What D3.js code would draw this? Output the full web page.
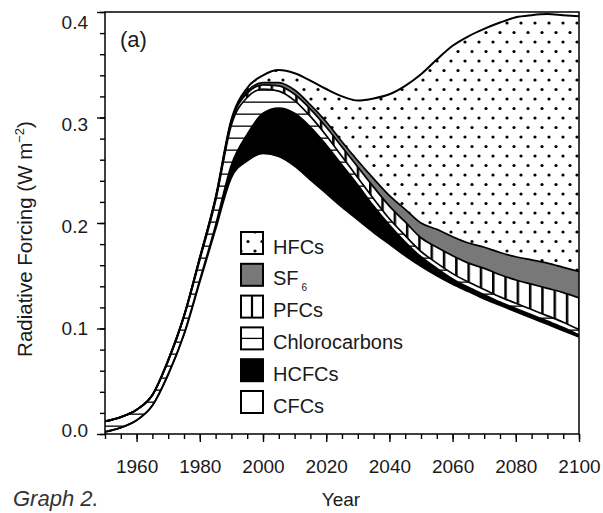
<!DOCTYPE html>
<html><head><meta charset="utf-8">
<script src="https://cdn.jsdelivr.net/npm/d3@7/dist/d3.min.js"></script>
<style>body{margin:0;background:#fff}</style>
</head><body><svg id="c" width="603" height="513"></svg>
<script>
const years = [1950,1955,1960,1965,1970,1975,1980,1985,1990,1995,2000,2005,2010,2015,2020,2025,2030,2035,2040,2045,2050,2055,2060,2065,2070,2075,2080,2085,2090,2095,2100];
const cfc    = [0.002,0.006,0.013,0.027,0.056,0.094,0.144,0.194,0.243,0.259,0.266,0.263,0.254,0.241,0.228,0.215,0.203,0.191,0.180,0.169,0.159,0.150,0.142,0.135,0.128,0.122,0.116,0.110,0.104,0.098,0.092];
const hcfc   = [0,0,0,0,0.001,0.001,0.002,0.004,0.012,0.025,0.038,0.046,0.050,0.050,0.046,0.040,0.033,0.025,0.018,0.013,0.009,0.007,0.005,0.004,0.004,0.003,0.003,0.003,0.003,0.003,0.002];
const chloro = [0.010,0.010,0.010,0.010,0.012,0.016,0.019,0.023,0.038,0.035,0.023,0.016,0.012,0.010,0.009,0.008,0.007,0.007,0.006,0.006,0.005,0.005,0.005,0.005,0.005,0.005,0.005,0.005,0.005,0.005,0.005];
const pfc    = [0,0,0,0,0.001,0.001,0.002,0.002,0.003,0.004,0.004,0.005,0.006,0.007,0.008,0.009,0.010,0.011,0.012,0.013,0.013,0.015,0.017,0.018,0.020,0.021,0.022,0.024,0.026,0.028,0.030];
const sf6    = [0,0,0,0,0,0,0,0.001,0.001,0.002,0.002,0.003,0.004,0.004,0.005,0.005,0.006,0.008,0.010,0.012,0.014,0.017,0.018,0.019,0.020,0.021,0.022,0.023,0.024,0.024,0.025];
const hfc    = [0,0,0,0,0,0,0,0,0.001,0.003,0.007,0.012,0.016,0.023,0.031,0.043,0.057,0.076,0.096,0.117,0.141,0.161,0.181,0.196,0.207,0.218,0.227,0.232,0.236,0.239,0.242];

const keys = ["CFCs","HCFCs","Chlorocarbons","PFCs","SF6","HFCs"];
const legendKeys = ["HFCs","SF6","PFCs","Chlorocarbons","HCFCs","CFCs"];
const xTickLabels = [1960,1980,2000,2020,2040,2060,2080,2100];
const yTickLabels = [0,0.1,0.2,0.3,0.4];

const table = years.map((yr,i)=>({year:yr, CFCs:cfc[i], HCFCs:hcfc[i], Chlorocarbons:chloro[i], PFCs:pfc[i], SF6:sf6[i], HFCs:hfc[i]}));
const series = d3.stack().keys(keys)(table);

const FONT = "'Liberation Sans', Arial, Helvetica, sans-serif";
const INK = "#1a1a1a";
const L=105, R=579, T=12, B=434;
const x = d3.scaleLinear().domain([1950,2100]).range([L,R]);
const y = d3.scaleLinear().domain([0,0.4]).range([B,T]);
const yLab = d3.scaleLinear().domain([0,0.4]).range([430,22]);

const svg = d3.select("#c");
const defs = svg.append("defs");
const pd = defs.append("pattern").attr("id","dots").attr("patternUnits","userSpaceOnUse").attr("width",14).attr("height",19);
pd.append("rect").attr("width",14).attr("height",19).attr("fill","#fff");
pd.append("circle").attr("cx",3).attr("cy",4).attr("r",1.6).attr("fill","#000");
pd.append("circle").attr("cx",10).attr("cy",13.5).attr("r",1.6).attr("fill","#000");
const pv = defs.append("pattern").attr("id","vl").attr("patternUnits","userSpaceOnUse").attr("width",12.3).attr("height",10);
pv.append("rect").attr("width",12.3).attr("height",10).attr("fill","#fff");
pv.append("rect").attr("x",0).attr("width",2.5).attr("height",10).attr("fill","#000");
const ph = defs.append("pattern").attr("id","hl").attr("patternUnits","userSpaceOnUse").attr("width",10).attr("height",12);
ph.append("rect").attr("width",10).attr("height",12).attr("fill","#fff");
ph.append("rect").attr("y",5.5).attr("width",10).attr("height",1.3).attr("fill","#000");
defs.append("clipPath").attr("id","clip").append("rect").attr("x",L).attr("y",T).attr("width",R-L).attr("height",B-T);

const fills = {CFCs:"#fff", HCFCs:"#000", Chlorocarbons:"url(#hl)", PFCs:"url(#vl)", SF6:"#787878", HFCs:"url(#dots)"};

const area = d3.area().x(d=>x(d.data.year)).y0(d=>y(d[0])).y1(d=>y(d[1])).curve(d3.curveMonotoneX);
const line = d3.line().x(d=>x(d.data.year)).y(d=>y(d[1])).curve(d3.curveMonotoneX);

const g = svg.append("g").attr("clip-path","url(#clip)");
g.selectAll("path.a").data(series).join("path").attr("class","a").attr("d",area).attr("fill",d=>fills[d.key]);
g.selectAll("path.l").data(series).join("path").attr("class","l").attr("d",line)
  .attr("fill","none").attr("stroke","#000").attr("stroke-width",d=>d.key==="HFCs"?2:1.7);

const xMinor = svg.append("g").attr("transform",`translate(0,${B})`)
  .call(d3.axisBottom(x).tickValues(d3.range(1950,2101,5)).tickSize(5).tickFormat(""));
const xMajor = svg.append("g").attr("transform",`translate(0,${B})`)
  .call(d3.axisBottom(x).tickValues(xTickLabels).tickSize(8).tickPadding(18).tickFormat(d3.format("d")));
const yMinor = svg.append("g").attr("transform",`translate(${L},0)`)
  .call(d3.axisLeft(y).tickValues(d3.range(0,0.401,0.02)).tickSize(5).tickFormat(""));
const yMajor = svg.append("g").attr("transform",`translate(${L},0)`)
  .call(d3.axisLeft(y).tickValues(yTickLabels).tickSize(8).tickPadding(9).tickFormat(d3.format(".1f")));
[xMinor,xMajor,yMinor,yMajor].forEach(a=>{
  a.select(".domain").remove();
  a.selectAll("line").attr("stroke","#000").attr("stroke-width",1.4);
  a.selectAll("text").attr("font-family",FONT).attr("font-size",19).attr("fill",INK);
});
yMajor.selectAll(".tick text").attr("y",d=>yLab(d)-y(d)).attr("dy","0.36em");

svg.append("rect").attr("x",L).attr("y",T).attr("width",R-L).attr("height",B-T)
  .attr("fill","none").attr("stroke","#000").attr("stroke-width",1.5);

const lg = svg.append("g");
legendKeys.forEach((k,i)=>{
  const top = 232 + i*31.8;
  lg.append("rect").attr("x",241).attr("y",top).attr("width",22).attr("height",22)
    .attr("fill",fills[k]==="url(#hl)"||fills[k]==="url(#vl)"?"#fff":fills[k]).attr("stroke","#000").attr("stroke-width",2);
  if(k==="PFCs") lg.append("line").attr("x1",252).attr("x2",252).attr("y1",top).attr("y2",top+22).attr("stroke","#000").attr("stroke-width",2.2);
  if(k==="Chlorocarbons") lg.append("line").attr("x1",241).attr("x2",263).attr("y1",top+11).attr("y2",top+11).attr("stroke","#000").attr("stroke-width",1.3);
  const t = lg.append("text").attr("x",273).attr("y",top+21.5).attr("font-family",FONT).attr("font-size",20).attr("fill",INK);
  if(k==="SF6"){ t.text("SF"); t.append("tspan").attr("font-size",10).attr("dx",3).attr("dy",6).text("6"); }
  else t.text(k);
});

svg.append("text").attr("x",120).attr("y",47).attr("font-family",FONT).attr("font-size",22).attr("fill",INK).text("(a)");
const yt = svg.append("text").attr("transform","translate(32,239) rotate(-90)").attr("text-anchor","middle")
  .attr("font-family",FONT).attr("font-size",20.5).attr("fill",INK);
yt.append("tspan").text("Radiative Forcing (W m");
yt.append("tspan").attr("font-size",13).attr("dy",-8).text("\u22122");
yt.append("tspan").attr("dy",8).text(")");
svg.append("text").attr("x",341).attr("y",506).attr("text-anchor","middle").attr("font-family",FONT).attr("font-size",19).attr("fill",INK).text("Year");
svg.append("text").attr("x",13).attr("y",506).attr("font-family",FONT).attr("font-style","italic").attr("font-size",22).attr("fill","#333").text("Graph 2.");
</script></body></html>
